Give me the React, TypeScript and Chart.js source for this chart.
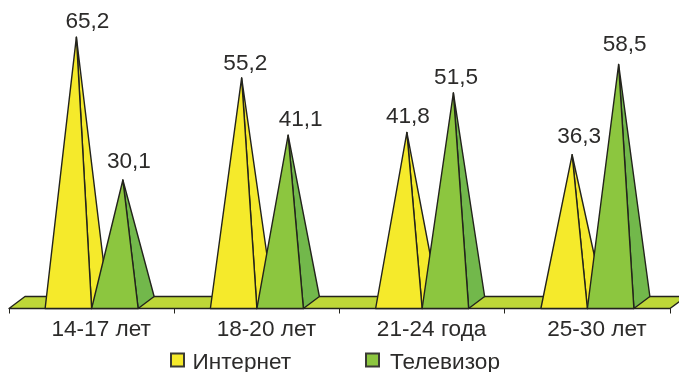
import React, { useEffect, useRef } from "react";
import { Chart, registerables } from "chart.js";

Chart.register(...registerables);

const categories = ["14-17 лет", "18-20 лет", "21-24 года", "25-30 лет"];
const internet = [65.2, 55.2, 41.8, 36.3];
const television = [30.1, 41.1, 51.5, 58.5];
const seriesNames = ["Интернет", "Телевизор"];

const FONT = '"Liberation Sans", Arial, sans-serif';
const INK = "#2c2b2a";
const LINE = "#23231c";
const FRONT = ["#f5ea2b", "#8cc63f"];
const SIDE = ["#f5ea2b", "#72b84b"];
const FLOOR = "#bed738";
const DEPTH_X = 16;
const DEPTH_Y = 12;

// hand-placed label nudges relative to each pyramid's apex [dx, dy]
const labelNudges = [
  [[11, -9], [3.7, -7.5], [1, -9], [7, -11.7]],
  [[6, -12], [12.5, -9], [2.7, -8.7], [6, -13]],
];

const poly = (ctx: CanvasRenderingContext2D, pts: number[][], fill: string) => {
  ctx.beginPath();
  pts.forEach(([x, y], i) => (i ? ctx.lineTo(x, y) : ctx.moveTo(x, y)));
  ctx.closePath();
  ctx.fillStyle = fill;
  ctx.fill();
  ctx.stroke();
};

const pyramids = {
  id: "pyramids",
  beforeDatasetsDraw(chart: any) {
    const { ctx, scales, chartArea } = chart;
    const zero = scales.y.getPixelForValue(0);
    const front = zero + DEPTH_Y / 2;
    const back = zero - DEPTH_Y / 2;
    ctx.save();
    ctx.strokeStyle = LINE;
    ctx.lineWidth = 1.4;
    ctx.lineJoin = "round";
    poly(
      ctx,
      [
        [chartArea.left, front],
        [chartArea.left + DEPTH_X, back],
        [chartArea.right + DEPTH_X, back],
        [chartArea.right, front],
      ],
      FLOOR
    );
    categories.forEach((_, i) => {
      chart.data.datasets.forEach((_d: any, s: number) => {
        const bar = chart.getDatasetMeta(s).data[i];
        const half = bar.width / 2;
        const apex = [bar.x + DEPTH_X / 2, bar.y];
        const fr = [bar.x + half, front];
        const fl = [bar.x - half, front];
        const br = [bar.x + half + DEPTH_X, back];
        poly(ctx, [apex, fr, br], SIDE[s]);
        poly(ctx, [apex, fl, fr], FRONT[s]);
      });
    });
    ctx.restore();
  },
  afterDatasetsDraw(chart: any) {
    const { ctx } = chart;
    ctx.save();
    ctx.font = `22.6px ${FONT}`;
    ctx.fillStyle = INK;
    ctx.textAlign = "center";
    ctx.textBaseline = "alphabetic";
    chart.data.datasets.forEach((d: any, s: number) => {
      chart.getDatasetMeta(s).data.forEach((bar: any, i: number) => {
        const [dx, dy] = labelNudges[s][i];
        ctx.fillText(String(d.data[i]).replace(".", ","), bar.x + DEPTH_X / 2 + dx, bar.y + dy);
      });
    });
    // legend
    const swatchX = [170, 365];
    const textX = [192.5, 390];
    ctx.textAlign = "left";
    chart.data.datasets.forEach((d: any, s: number) => {
      ctx.fillStyle = FRONT[s];
      ctx.strokeStyle = "#3a3a34";
      ctx.lineWidth = 2;
      ctx.fillRect(swatchX[s] + 1, 353.5, 13, 13);
      ctx.strokeRect(swatchX[s] + 1, 353.5, 13, 13);
      ctx.fillStyle = INK;
      ctx.fillText(d.label, textX[s], 368.5);
    });
    ctx.restore();
  },
};

export default function App() {
  const ref = useRef<HTMLCanvasElement>(null);
  useEffect(() => {
    document.body.style.margin = "0";
    const chart = new Chart(ref.current!, {
      type: "bar",
      data: {
        labels: categories,
        datasets: [
          { label: seriesNames[0], data: internet, backgroundColor: "transparent" },
          { label: seriesNames[1], data: television, backgroundColor: "transparent" },
        ],
      },
      options: {
        responsive: false,
        animation: false,
        layout: { padding: { left: 9, right: 9, top: 0, bottom: 0 } },
        datasets: { bar: { categoryPercentage: 0.5628, barPercentage: 1 } },
        plugins: { legend: { display: false }, tooltip: { enabled: false } },
        scales: {
          y: { display: false, min: -1.474, max: 74.33 },
          x: {
            offset: true,
            afterFit: (s: any) => {
              s.height = 63.5;
            },
            grid: { offset: true, drawOnChartArea: false, drawTicks: true, tickLength: 5, color: LINE, lineWidth: 1 },
            border: { display: true, color: LINE, width: 1 },
            ticks: {
              autoSkip: false,
              maxRotation: 0,
              labelOffset: 9.5,
              padding: 2.5,
              color: INK,
              font: { family: FONT, size: 22.6 },
            },
          },
        },
      },
      plugins: [pyramids],
    } as any);
    return () => chart.destroy();
  }, []);
  return (
    <canvas
      ref={ref}
      width={679}
      height={372}
      style={{ display: "block", width: 679, height: 372, background: "#fff" }}
    />
  );
}
